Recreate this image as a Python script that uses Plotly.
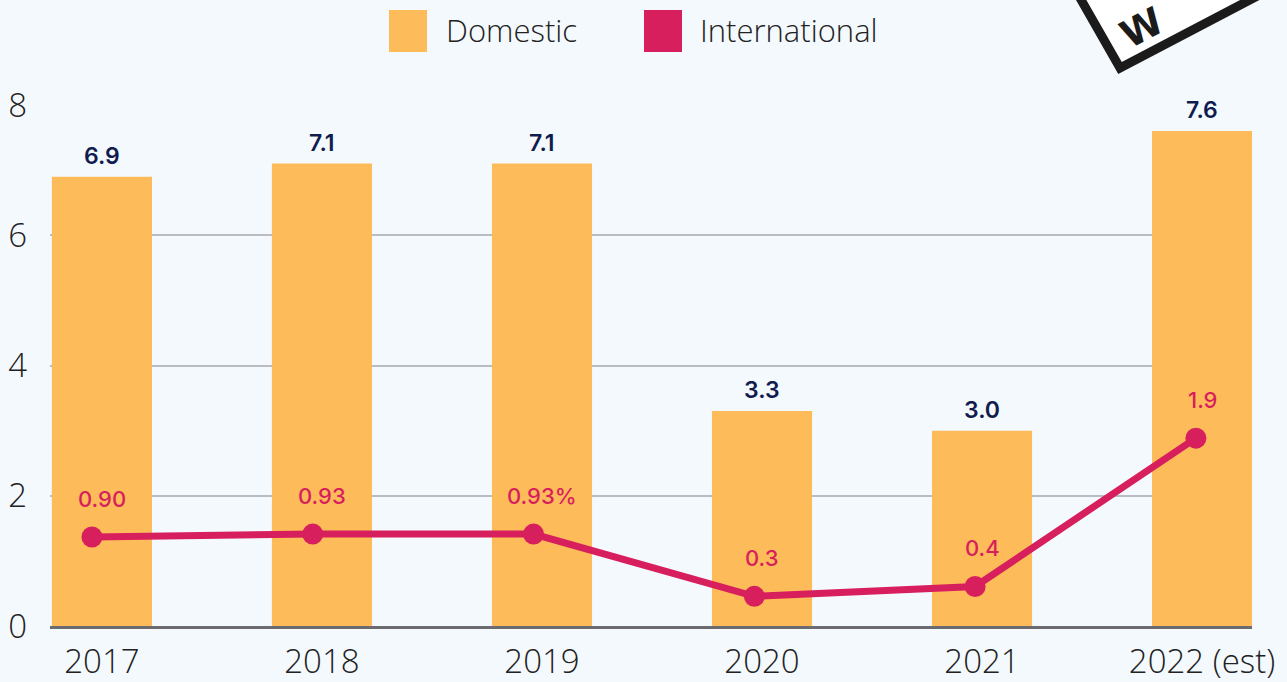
import plotly.graph_objects as go

years = ["2017", "2018", "2019", "2020", "2021", "2022 (est)"]
domestic = [6.9, 7.1, 7.1, 3.3, 3.0, 7.6]
domestic_labels = ["6.9", "7.1", "7.1", "3.3", "3.0", "7.6"]
international = [0.90, 0.93, 0.93, 0.30, 0.40, 1.90]
international_labels = ["0.90", "0.93", "0.93%", "0.3", "0.4", "1.9"]

BAR_COLOR = "#FDBB5A"
LINE_COLOR = "#D81F5D"
NAVY = "#101C4E"
BG = "#F4F9FD"

W, H = 1287, 682
L, R, T, B = 50, 35, 105, 56


def px_x(px):
    return (px - L) / (W - L - R)


def px_y(py):
    return (H - B - py) / (H - T - B)


fig = go.Figure()

fig.add_trace(go.Bar(
    x=years, y=domestic, name="Domestic",
    marker=dict(color=BAR_COLOR, line_width=0),
    showlegend=False, hoverinfo="x+y",
))

fig.add_trace(go.Scatter(
    x=years, y=international, name="International",
    mode="lines+markers", xaxis="x2", yaxis="y2",
    line=dict(color=LINE_COLOR, width=7),
    marker=dict(color=LINE_COLOR, size=21),
    showlegend=False,
))

annotations = []
for i, (v, lab) in enumerate(zip(domestic, domestic_labels)):
    annotations.append(dict(
        x=i, y=v, xref="x", yref="y", text=lab, showarrow=False,
        yanchor="bottom", yshift=5,
        font=dict(family="Inter", size=23, color=NAVY, weight=600),
    ))
for i, (v, lab) in enumerate(zip(international, international_labels)):
    annotations.append(dict(
        x=i, y=v, xref="x", yref="y2", text=lab, showarrow=False,
        yanchor="middle", yshift=38,
        font=dict(family="Inter", size=22, color=LINE_COLOR, weight=500),
    ))

# custom legend with large square swatches
legend_items = [("Domestic", BAR_COLOR, 389, 444), ("International", LINE_COLOR, 644, 698)]
shapes = []
for name, col, sx, tx in legend_items:
    shapes.append(dict(type="rect", xref="paper", yref="paper",
                       x0=px_x(sx), x1=px_x(sx + 38), y0=px_y(52), y1=px_y(10),
                       fillcolor=col, line_width=0))
    annotations.append(dict(x=px_x(tx), y=px_y(30), xref="paper", yref="paper",
                            text=name, showarrow=False, xanchor="left", yanchor="middle",
                            font=dict(family="Open Sans", size=31, color="#222222", weight=300)))

# stamp in the top-right corner, mostly cut off by the page edge
corners = [(1120, 68), (1060, -37), (1265, -145), (1326, -40)]
path = "M " + " L ".join(f"{px_x(a):.4f},{px_y(b):.4f}" for a, b in corners) + " Z"
shapes.append(dict(type="path", path=path, xref="paper", yref="paper",
                   fillcolor="white", line=dict(color="#1B1B1B", width=9)))
annotations.append(dict(x=px_x(1142), y=px_y(28), xref="paper", yref="paper",
                        text="<b>W</b>", showarrow=False, textangle=-28,
                        xanchor="center", yanchor="middle",
                        font=dict(family="DejaVu Sans", size=38, color="#1B1B1B")))

tick_font = dict(family="Open Sans", size=33, color="#222222", weight=300)

fig.update_layout(
    width=W, height=H,
    margin=dict(l=L, r=R, t=T, b=B),
    paper_bgcolor=BG, plot_bgcolor=BG,
    bargap=0.545,
    showlegend=False,
    xaxis=dict(type="category", range=[-0.236, 5.227], showgrid=False,
               tickfont=tick_font, ticks="", automargin=False,
               showline=True, linecolor="#6B6B70", linewidth=3,
               ticklabelstandoff=4),
    xaxis2=dict(type="category", overlaying="x", range=[-0.190, 5.254],
                visible=False),
    yaxis=dict(range=[0, 8], dtick=2, showgrid=True, gridcolor="#B9BCC2", gridwidth=2,
               zeroline=False, showline=False, automargin=False,
               tickfont=tick_font, ticklabelstandoff=22),
    yaxis2=dict(range=[0, 5.27], overlaying="y", visible=False),
    annotations=annotations,
    shapes=shapes,
)

fig.write_html("out.html", config={"displayModeBar": False},
               post_script="document.body.style.margin = '0';")
